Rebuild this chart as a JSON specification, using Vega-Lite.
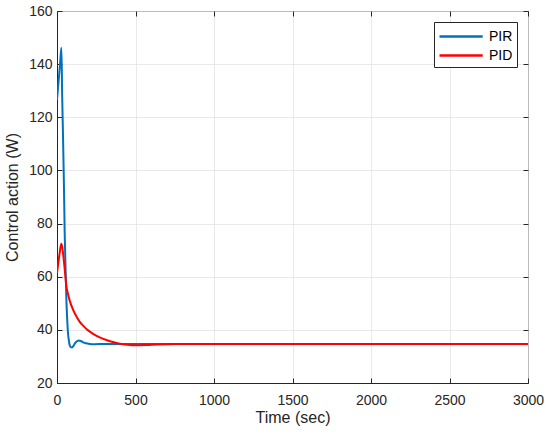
{
  "$schema": "https://vega.github.io/schema/vega-lite/v6.json",
  "autosize": {"type": "none"},
  "width": 471,
  "height": 372,
  "padding": {"left": 57, "top": 11, "right": 22, "bottom": 51},
  "background": "white",
  "config": {
    "font": "Liberation Sans",
    "view": {"stroke": "#262626", "strokeWidth": 1},
    "axis": {
      "labelFont": "Liberation Sans",
      "titleFont": "Liberation Sans",
      "labelFontSize": 14,
      "titleFontSize": 16,
      "titleFontWeight": "normal",
      "labelColor": "#262626",
      "titleColor": "#262626",
      "gridColor": "#e3e3e3",
      "gridWidth": 0.8,
      "domainColor": "#262626",
      "tickColor": "#262626",
      "tickSize": -5
    }
  },
  "data": {
    "values": [
      {"t": 0, "u": 126.5, "s": "PIR"},
      {"t": 10, "u": 133.5, "s": "PIR"},
      {"t": 20, "u": 140.5, "s": "PIR"},
      {"t": 28, "u": 146.2, "s": "PIR"},
      {"t": 33, "u": 128, "s": "PIR"},
      {"t": 38, "u": 114, "s": "PIR"},
      {"t": 44, "u": 95, "s": "PIR"},
      {"t": 49, "u": 76.4, "s": "PIR"},
      {"t": 55, "u": 62, "s": "PIR"},
      {"t": 60, "u": 51, "s": "PIR"},
      {"t": 65, "u": 44, "s": "PIR"},
      {"t": 70, "u": 38.8, "s": "PIR"},
      {"t": 76, "u": 35.8, "s": "PIR"},
      {"t": 81, "u": 34.2, "s": "PIR"},
      {"t": 88, "u": 33.5, "s": "PIR"},
      {"t": 96, "u": 33.4, "s": "PIR"},
      {"t": 105, "u": 34.0, "s": "PIR"},
      {"t": 115, "u": 35.0, "s": "PIR"},
      {"t": 128, "u": 35.8, "s": "PIR"},
      {"t": 140, "u": 36.0, "s": "PIR"},
      {"t": 155, "u": 35.7, "s": "PIR"},
      {"t": 175, "u": 35.1, "s": "PIR"},
      {"t": 200, "u": 34.8, "s": "PIR"},
      {"t": 240, "u": 34.6, "s": "PIR"},
      {"t": 300, "u": 34.7, "s": "PIR"},
      {"t": 500, "u": 34.7, "s": "PIR"},
      {"t": 1000, "u": 34.7, "s": "PIR"},
      {"t": 2000, "u": 34.7, "s": "PIR"},
      {"t": 3000, "u": 34.7, "s": "PIR"},
      {"t": 0, "u": 61.4, "s": "PID"},
      {"t": 8, "u": 65, "s": "PID"},
      {"t": 16, "u": 68.5, "s": "PID"},
      {"t": 22, "u": 71, "s": "PID"},
      {"t": 28, "u": 72.4, "s": "PID"},
      {"t": 35, "u": 70.5, "s": "PID"},
      {"t": 43, "u": 66.4, "s": "PID"},
      {"t": 50, "u": 62.3, "s": "PID"},
      {"t": 60, "u": 56.4, "s": "PID"},
      {"t": 70, "u": 53.5, "s": "PID"},
      {"t": 81, "u": 51.0, "s": "PID"},
      {"t": 102, "u": 47.6, "s": "PID"},
      {"t": 123, "u": 45.1, "s": "PID"},
      {"t": 145, "u": 43.0, "s": "PID"},
      {"t": 166, "u": 41.6, "s": "PID"},
      {"t": 198, "u": 39.8, "s": "PID"},
      {"t": 230, "u": 38.5, "s": "PID"},
      {"t": 272, "u": 37.2, "s": "PID"},
      {"t": 315, "u": 36.2, "s": "PID"},
      {"t": 357, "u": 35.4, "s": "PID"},
      {"t": 400, "u": 34.8, "s": "PID"},
      {"t": 450, "u": 34.4, "s": "PID"},
      {"t": 500, "u": 34.2, "s": "PID"},
      {"t": 570, "u": 34.3, "s": "PID"},
      {"t": 634, "u": 34.5, "s": "PID"},
      {"t": 750, "u": 34.7, "s": "PID"},
      {"t": 1000, "u": 34.7, "s": "PID"},
      {"t": 2000, "u": 34.7, "s": "PID"},
      {"t": 3000, "u": 34.7, "s": "PID"}
    ]
  },
  "layer": [
    {
      "mark": {"type": "line", "opacity": 0},
      "encoding": {
        "x": {
          "field": "t",
          "type": "quantitative",
          "scale": {"domain": [0, 3000], "nice": false},
          "axis": {"orient": "top", "values": [0, 500, 1000, 1500, 2000, 2500, 3000], "labels": false, "title": null, "grid": true, "domain": false}
        },
        "y": {
          "field": "u",
          "type": "quantitative",
          "scale": {"domain": [20, 160], "nice": false, "zero": false},
          "axis": {"orient": "right", "values": [20, 40, 60, 80, 100, 120, 140, 160], "labels": false, "title": null, "grid": true, "domain": false}
        },
        "detail": {"field": "s", "type": "nominal"},
        "order": {"field": "t", "type": "quantitative"}
      }
    },
    {
      "mark": {"type": "line", "strokeWidth": 2, "clip": true, "interpolate": "monotone"},
      "encoding": {
        "x": {
          "field": "t",
          "type": "quantitative",
          "scale": {"domain": [0, 3000], "nice": false},
          "axis": {"orient": "bottom", "values": [0, 500, 1000, 1500, 2000, 2500, 3000], "format": "d", "title": "Time (sec)", "labelPadding": 15, "titlePadding": 2, "labelFlush": false, "grid": false}
        },
        "y": {
          "field": "u",
          "type": "quantitative",
          "scale": {"domain": [20, 160], "nice": false, "zero": false},
          "axis": {"orient": "left", "values": [20, 40, 60, 80, 100, 120, 140, 160], "title": "Control action (W)", "labelPadding": 10, "titlePadding": 8, "labelFlush": false, "grid": false}
        },
        "color": {
          "field": "s",
          "type": "nominal",
          "sort": ["PIR", "PID"],
          "scale": {"domain": ["PIR", "PID"], "range": ["#0072BD", "#FF0000"]},
          "legend": {
            "title": null,
            "orient": "top-right",
            "offset": 11,
            "fillColor": "white",
            "strokeColor": "#262626",
            "padding": 4,
            "symbolType": "M-1,0H3.8",
            "symbolSize": 324,
            "symbolStrokeWidth": 2.5,
            "labelOffset": 30,
            "labelFontSize": 14,
            "labelColor": "#000000",
            "labelFont": "Liberation Sans",
            "rowPadding": 1,
            "cornerRadius": 0
          }
        },
        "order": {"field": "t", "type": "quantitative"}
      }
    }
  ],
  "resolve": {"axis": {"x": "independent", "y": "independent"}}
}
